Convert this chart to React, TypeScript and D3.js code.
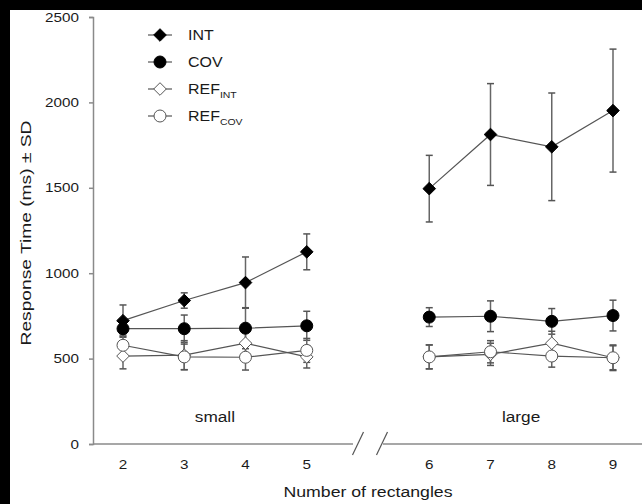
import React, { useEffect, useRef } from "react";
import * as d3 from "d3";

const xLabels = ["2", "3", "4", "5", "6", "7", "8", "9"];
const xSlots = [0, 1, 2, 3, 5, 6, 7, 8];
const yTicks = [0, 500, 1000, 1500, 2000, 2500];

const intMean = [722, 840, 945, 1125, 1495, 1812, 1740, 1952];
const intSd = [92, 45, 150, 105, 195, 298, 315, 360];
const covMean = [675, 675, 678, 692, 743, 748, 718, 752];
const covSd = [50, 80, 120, 85, 55, 90, 75, 90];
const refIntMean = [515, 520, 590, 510, 510, 525, 590, 505];
const refIntSd = [75, 85, 80, 65, 70, 65, 70, 75];
const refCovMean = [578, 510, 508, 548, 510, 540, 515, 505];
const refCovSd = [60, 75, 75, 70, 70, 65, 65, 70];

const groupLabels = ["small", "large"];
const groupCenters = [1.5, 6.5];

const series = [
  { name: "INT", sub: "", mean: intMean, sd: intSd, shape: "diamond", fill: "#000" },
  { name: "COV", sub: "", mean: covMean, sd: covSd, shape: "circle", fill: "#000" },
  { name: "REF", sub: "INT", mean: refIntMean, sd: refIntSd, shape: "diamond", fill: "#fff" },
  { name: "REF", sub: "COV", mean: refCovMean, sd: refCovSd, shape: "circle", fill: "#fff" },
];

export default function App() {
  const ref = useRef<SVGSVGElement>(null);
  useEffect(() => {
    const svg = d3.select(ref.current);
    svg.selectAll("*").remove();
    const W = 642, H = 504;
    svg.append("rect").attr("width", W).attr("height", H).attr("fill", "#000");
    svg.append("rect").attr("x", 10).attr("y", 10).attr("width", W - 10).attr("height", H - 10).attr("fill", "#fff");

    const x = d3.scaleLinear().domain([0, 8]).range([123, 613]);
    const y = d3.scaleLinear().domain([0, 2500]).range([444, 17]);
    const font = "Liberation Sans, Arial, sans-serif";
    const axisColor = "#8a8a8a";
    const textColor = "#1a1a1a";

    const label = (tx: number, ty: number, str: string, size: number, sx: number, anchor = "middle", rot = 0) =>
      svg.append("text")
        .attr("transform", `translate(${tx},${ty}) rotate(${rot}) scale(${sx},1)`)
        .attr("text-anchor", anchor).attr("font-family", font).attr("font-size", size).attr("fill", textColor)
        .text(str);

    // Y axis
    const tickSx = 1.22;
    const yAxis = d3.axisLeft(y).tickValues(yTicks).tickFormat(d3.format("d")).tickSize(4).tickSizeOuter(4).tickPadding(10);
    const gy = svg.append("g").attr("transform", "translate(93,0)").call(yAxis as any);
    gy.select(".domain").attr("stroke", axisColor).attr("stroke-width", 1.5);
    gy.selectAll(".tick line").attr("stroke", axisColor).attr("stroke-width", 1.5);
    gy.selectAll(".tick text").attr("font-family", font).attr("font-size", 12.5).attr("fill", textColor)
      .attr("x", -14 / tickSx).attr("transform", `scale(${tickSx},1)`);

    // X axis with break
    const y0 = y(0);
    const bx = x(4);
    svg.append("line").attr("x1", 93).attr("x2", bx - 15).attr("y1", y0).attr("y2", y0)
      .attr("stroke", axisColor).attr("stroke-width", 1.5);
    svg.append("line").attr("x1", bx + 15).attr("x2", W).attr("y1", y0).attr("y2", y0)
      .attr("stroke", axisColor).attr("stroke-width", 1.5);
    [-10, 14].forEach((o) => {
      svg.append("line")
        .attr("x1", bx + o - 5.5).attr("y1", y0 + 11)
        .attr("x2", bx + o + 5.5).attr("y2", y0 - 12)
        .attr("stroke", "#555").attr("stroke-width", 1.2);
    });
    xLabels.forEach((d, i) => label(x(xSlots[i]), 469, d, 12.5, tickSx));
    groupLabels.forEach((d, i) => label(x(groupCenters[i]), 422, d, 15, 1.15));
    label(368, 497, "Number of rectangles", 15, 1.18);
    label(31, 233, "Response Time (ms) ± SD", 15, 1.28, "middle", -90);

    const diamond = (r: number) => `M0,${-r}L${r},0L0,${r}L${-r},0Z`;
    const drawMarker = (g: any, shape: string, fill: string) => {
      const stroke = fill === "#000" ? "#000" : "#555";
      if (shape === "diamond") {
        g.append("path").attr("d", diamond(6.3)).attr("fill", fill).attr("stroke", stroke).attr("stroke-width", 1);
      } else {
        g.append("circle").attr("r", 6).attr("fill", fill).attr("stroke", stroke).attr("stroke-width", 1);
      }
    };

    // error bars
    series.forEach((s) => {
      const g = svg.append("g");
      s.mean.forEach((m, i) => {
        const cx = x(xSlots[i]);
        const t = y(m + s.sd[i]), b = y(m - s.sd[i]);
        g.append("line").attr("x1", cx).attr("x2", cx).attr("y1", t).attr("y2", b).attr("stroke", "#666").attr("stroke-width", 1.5);
        [t, b].forEach((yy) => g.append("line").attr("x1", cx - 3.5).attr("x2", cx + 3.5).attr("y1", yy).attr("y2", yy).attr("stroke", "#555").attr("stroke-width", 1.5));
      });
    });

    // lines
    series.forEach((s) => {
      [[0, 4], [4, 8]].forEach(([a, b]) => {
        const seg = s.mean.slice(a, b);
        svg.append("path").attr("d", d3.line<number>().x((_d, i) => x(xSlots[a + i])).y((d) => y(d))(seg) as string)
          .attr("fill", "none").attr("stroke", "#555").attr("stroke-width", 1.2);
      });
    });

    // markers
    series.forEach((s) => {
      s.mean.forEach((m, i) => {
        const g = svg.append("g").attr("transform", `translate(${x(xSlots[i])},${y(m)})`);
        drawMarker(g, s.shape, s.fill);
      });
    });

    // legend
    series.forEach((s, i) => {
      const ly = 35 + i * 27;
      svg.append("line").attr("x1", 148).attr("x2", 172).attr("y1", ly).attr("y2", ly).attr("stroke", "#555").attr("stroke-width", 1.2);
      const g = svg.append("g").attr("transform", `translate(160,${ly})`);
      drawMarker(g, s.shape, s.fill);
      const t = svg.append("text").attr("transform", `translate(188,${ly + 5}) scale(1.1,1)`)
        .attr("font-family", font).attr("font-size", 14.5).attr("fill", textColor).text(s.name);
      if (s.sub) t.append("tspan").attr("dy", 4).attr("font-size", 9.5).text(s.sub);
    });
  }, []);
  return (
    <svg ref={ref} width={642} height={504} style={{ position: "fixed", left: 0, top: 0, display: "block" }} />
  );
}
